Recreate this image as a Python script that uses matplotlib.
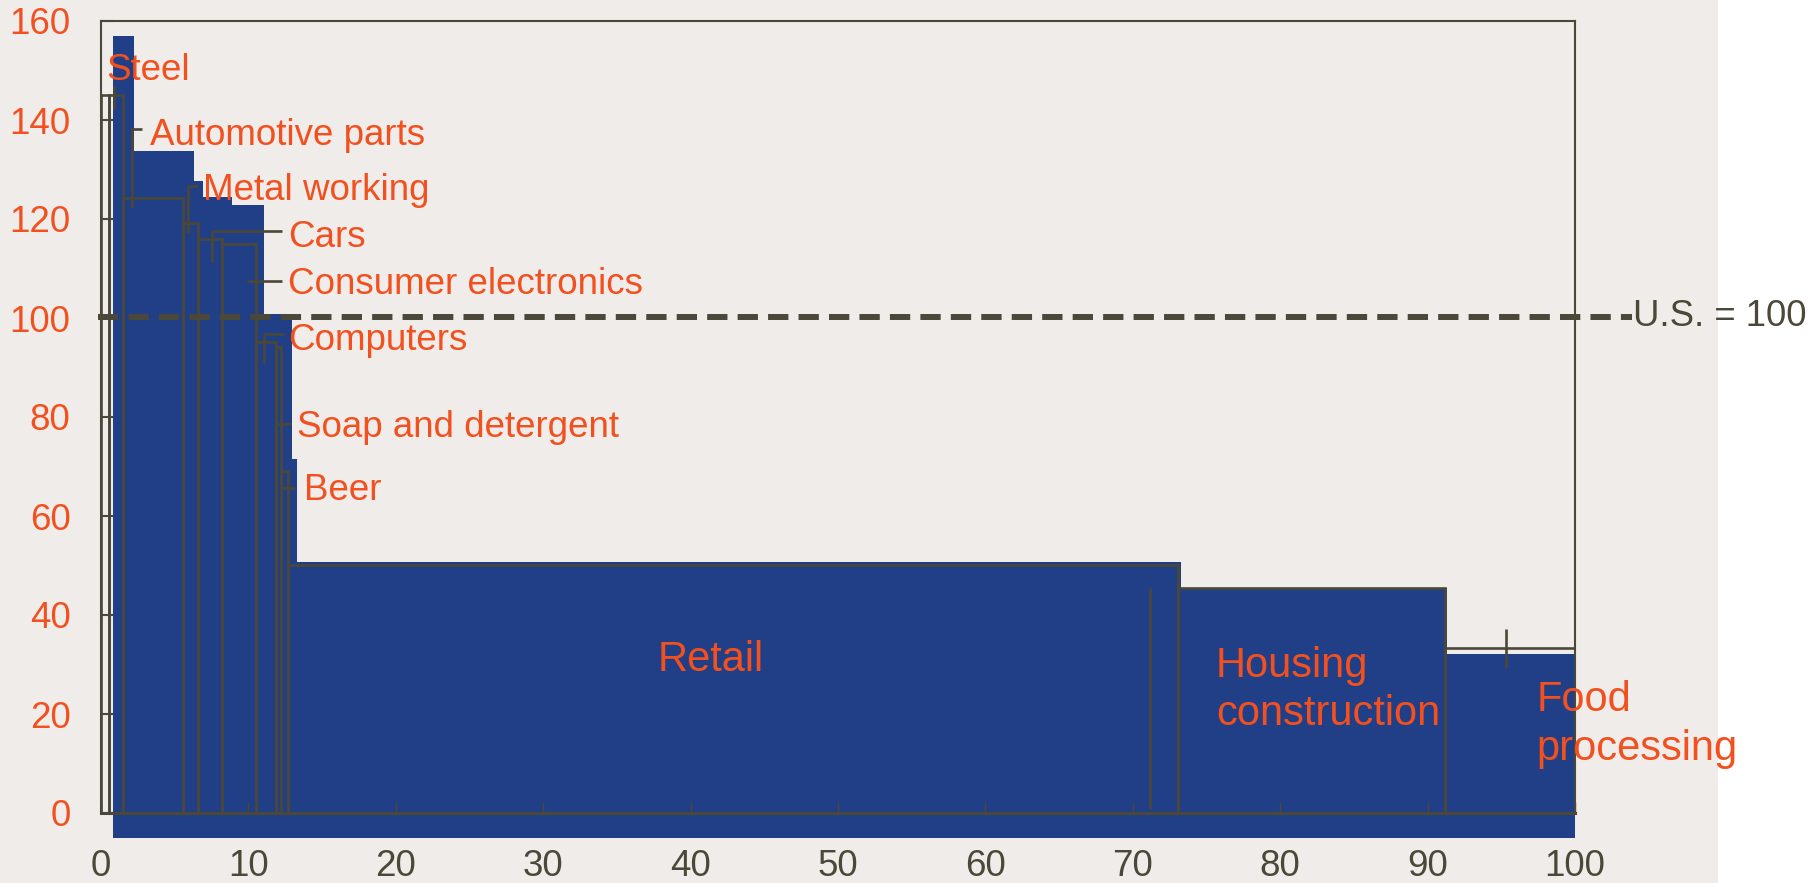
import numpy as np
import matplotlib.pyplot as plt
from matplotlib.patches import Rectangle

plt.rcParams['font.family'] = ['Liberation Sans', 'DejaVu Sans']

# productivity index by sector (U.S. = 100), bar widths = share of employment (%)
blue_edges   = [0.79, 2.24, 6.30, 6.93, 8.87, 11.07, 12.60, 12.94, 13.28, 73.3, 91.3, 100.0]
blue_heights = [157.0, 133.8, 127.7, 124.5, 122.8, 100.9, 99.6, 71.6, 50.7, 45.5, 32.2]

# second (outline) series
line_edges   = [0.0, 0.54, 1.51, 5.54, 6.60, 8.18, 10.50, 11.87, 12.19, 12.71, 73.1, 91.2, 100.0]
line_heights = [145.0, 145.0, 124.2, 119.1, 115.9, 114.95, 95.2, 94.2, 69.1, 50.2, 45.5, 33.4]

sectors = ['Steel', 'Automotive parts', 'Metal working', 'Cars', 'Consumer electronics',
           'Computers', 'Soap and detergent', 'Beer']
label_x = [0.39, 3.32, 6.94, 12.71, 12.71, 12.71, 13.32, 13.77]
label_y = [148.1, 134.9, 123.8, 114.4, 104.8, 93.5, 76.0, 63.2]

# big labels, y = baseline of the last line
big_sectors = ['Retail', 'Housing\nconstruction', 'Food\nprocessing']
big_x = [37.74, 75.64, 97.4]
big_y = [28.7, 17.8, 10.8]

us_level = 100.3

BLUE = '#213F86'
ORANGE = '#F2501F'
GRAY = '#4B4839'
BG = '#EFECE9'

fig = plt.figure(figsize=(18.12, 8.83), dpi=100)
fig.patch.set_facecolor(BG)
fig.patches.append(Rectangle((1718/1812., 0), 1 - 1718/1812., 1, transform=fig.transFigure,
                             facecolor='white', edgecolor='none', zorder=-1))
ax = fig.add_axes([101/1812., 1 - 813/883., (1575-101)/1812., (813-21)/883.])
ax.patch.set_visible(False)
ax.set_xlim(0, 100)
ax.set_ylim(0, 160)

# filled bars, running a little below the axis
be = np.array(blue_edges)
bh = np.array(blue_heights)
ax.bar(be[:-1], bh + 5.1, width=np.diff(be), bottom=-5.1, align='edge',
       color=BLUE, edgecolor='none', clip_on=False, zorder=1)

# outline bars
le = np.array(line_edges)
ax.bar(le[:-1], line_heights, width=np.diff(le), align='edge', fill=False,
       edgecolor=GRAY, linewidth=1.9, zorder=2)

# leader lines
lk = dict(color=GRAY, lw=1.9, zorder=2, solid_capstyle='butt')
ax.plot([2.12, 2.80], [138.1, 138.1], **lk); ax.plot([2.12, 2.12], [138.1, 122.2], **lk)
ax.plot([5.92, 6.60], [126.7, 126.7], **lk); ax.plot([5.92, 5.92], [126.7, 117.1], **lk)
ax.plot([7.55, 12.26], [117.6, 117.6], **lk); ax.plot([7.55, 7.55], [117.6, 111.4], **lk)
ax.plot([9.88, 12.26], [107.5, 107.5], **lk)
ax.plot([11.08, 12.44], [96.7, 96.7], **lk); ax.plot([11.08, 11.08], [96.7, 91.0], **lk)
ax.plot([11.92, 12.87], [78.6, 78.6], **lk)
ax.plot([12.19, 13.16], [65.7, 65.7], **lk)
ax.plot([0.9, 0.9], [146.9, 142.2], **lk)
ax.plot([71.2, 71.2], [0.8, 45.5], **lk)
ax.plot([95.3, 95.3], [29.3, 37.1], **lk)

# U.S. reference
ax.plot([-0.2, 103.9], [us_level, us_level], color=GRAY, lw=4.3, dashes=(3.4, 1.7),
        clip_on=False, zorder=3)
ax.text(103.95, us_level, 'U.S. = 100', color=GRAY, fontsize=26.3, va='center', ha='left',
        clip_on=False, zorder=5)

for name, x, y in zip(sectors, label_x, label_y):
    ax.text(x, y, name, color=ORANGE, fontsize=26.5, ha='left', va='baseline', zorder=5)
for name, x, y in zip(big_sectors, big_x, big_y):
    ax.text(x, y, name, color=ORANGE, fontsize=30, ha='left', va='baseline',
            linespacing=1.27, zorder=5, clip_on=False)

for s in ax.spines.values():
    s.set_color(GRAY)
    s.set_linewidth(1.5)
    s.set_zorder(4)
ax.spines['bottom'].set_linewidth(2.2)

ax.set_yticks(np.arange(0, 161, 20))
ax.set_xticks(np.arange(0, 101, 10))
ax.tick_params(axis='y', direction='in', length=8.4, width=1.5, color=GRAY,
               labelsize=26.5, labelcolor=ORANGE, pad=22)
ax.tick_params(axis='x', direction='in', length=8, width=1, color=GRAY,
               labelsize=26.5, labelcolor=GRAY, pad=26)

fig.savefig('out.png', dpi=100, facecolor=BG)
